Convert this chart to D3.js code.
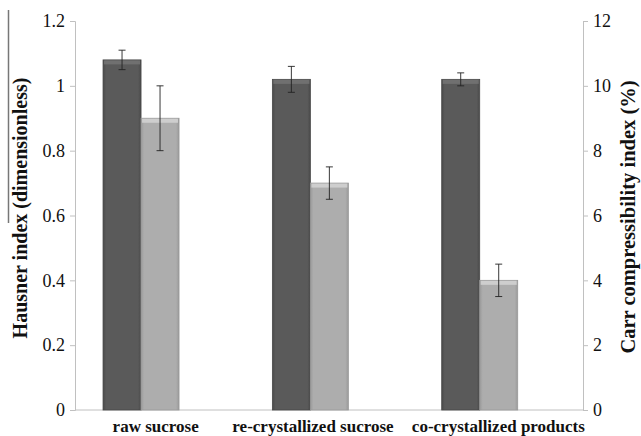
<!DOCTYPE html>
<html>
<head>
<meta charset="utf-8">
<script src="https://cdn.jsdelivr.net/npm/d3@7"></script>
<style>
  body { margin: 0; background: #fff; }
  text { font-family: "Liberation Serif", "Times New Roman", serif; }
</style>
</head>
<body>
<div id="chart"></div>
<script>
var categories = ["raw sucrose", "re-crystallized sucrose", "co-crystallized products"],
    hausner = [1.08, 1.02, 1.02],
    hausnerErr = [0.03, 0.04, 0.02],
    carr = [9, 7, 4],
    carrErr = [1, 0.5, 0.5],
    leftTicks = [0, 0.2, 0.4, 0.6, 0.8, 1, 1.2],
    rightTicks = [0, 2, 4, 6, 8, 10, 12];

var width = 641, height = 436,
    margin = {top: 21, right: 58, bottom: 26, left: 75},
    innerW = width - margin.left - margin.right,
    innerH = height - margin.top - margin.bottom;

var svg = d3.select("#chart").append("svg")
    .attr("width", width)
    .attr("height", height);

// bevel-ish gradients for the two series
var defs = svg.append("defs");
function grad(id, edge, mid) {
  var g = defs.append("linearGradient").attr("id", id)
      .attr("x1", "0%").attr("x2", "100%");
  g.append("stop").attr("offset", "0%").attr("stop-color", edge);
  g.append("stop").attr("offset", "8%").attr("stop-color", mid);
  g.append("stop").attr("offset", "92%").attr("stop-color", mid);
  g.append("stop").attr("offset", "100%").attr("stop-color", edge);
}
grad("gDark", "#4a4a4a", "#5a5a5a");
grad("gLight", "#9a9a9a", "#adadad");

var g = svg.append("g")
    .attr("transform", `translate(${margin.left},${margin.top})`);

var x = d3.scaleBand().domain(categories).range([0, innerW]),
    yL = d3.scaleLinear().domain([0, 1.2]).range([innerH, 0]),
    yR = d3.scaleLinear().domain([0, 12]).range([innerH, 0]);

var barW = 38,
    groupOff = x.bandwidth() * 0.39, // group centre inside each band
    labelNudge = [-4, -16, 0];       // label shifts as laid out in the source

// axes
var axisL = g.append("g").call(d3.axisLeft(yL).tickValues(leftTicks)
    .tickSize(5).tickPadding(5).tickFormat(d3.format("")));
var axisR = g.append("g").attr("transform", `translate(${innerW},0)`)
    .call(d3.axisRight(yR).tickValues(rightTicks)
    .tickSize(5).tickPadding(5).tickFormat(d3.format("d")));
[axisL, axisR].forEach(function(a) {
  a.attr("font-family", "Liberation Serif");
  a.select(".domain").attr("stroke", "#c0c0c0");
  a.selectAll(".tick line").attr("stroke", "#c0c0c0");
  a.selectAll("text").attr("font-size", 18).attr("fill", "#111");
});
g.append("line")
    .attr("x1", 0).attr("x2", innerW)
    .attr("y1", innerH).attr("y2", innerH)
    .attr("stroke", "#c0c0c0");

// category labels
g.selectAll(".cat").data(categories).enter().append("text")
    .attr("x", (d, i) => x(d) + x.bandwidth() / 2 + labelNudge[i])
    .attr("y", innerH + 22)
    .attr("text-anchor", "middle")
    .attr("font-size", 17).attr("font-weight", "bold").attr("fill", "#111")
    .text(d => d);

function bars(vals, errs, scale, side, fill, top) {
  var gx = d => x(categories[d]) + groupOff + (side ? 0 : -barW);
  var sel = g.append("g").selectAll("g").data(vals.map((v, i) => i))
      .enter().append("g");
  sel.append("rect")
      .attr("x", gx).attr("width", barW)
      .attr("y", i => scale(vals[i]))
      .attr("height", i => innerH - scale(vals[i]))
      .attr("fill", fill)
      .attr("stroke", side ? "#999" : "#484848").attr("stroke-width", 0.8);
  sel.append("rect")
      .attr("x", i => gx(i) + 1).attr("width", barW - 2)
      .attr("y", i => scale(vals[i]) + 0.5).attr("height", 4)
      .attr("fill", top).attr("opacity", 0.9);
  // error bars
  var cx = i => gx(i) + barW / 2;
  sel.append("line")
      .attr("x1", cx).attr("x2", cx)
      .attr("y1", i => scale(vals[i] + errs[i]))
      .attr("y2", i => scale(vals[i] - errs[i]))
      .attr("stroke", "#222").attr("stroke-width", 0.9);
  [1, -1].forEach(function(s) {
    sel.append("line")
        .attr("x1", i => cx(i) - 3.5).attr("x2", i => cx(i) + 3.5)
        .attr("y1", i => scale(vals[i] + s * errs[i]))
        .attr("y2", i => scale(vals[i] + s * errs[i]))
        .attr("stroke", "#222").attr("stroke-width", 0.9);
  });
}
bars(hausner, hausnerErr, yL, 0, "url(#gDark)", "#727272");
bars(carr, carrErr, yR, 1, "url(#gLight)", "#d2d2d2");

// axis titles
svg.append("text")
    .attr("transform", "translate(27,208) rotate(-90)")
    .attr("text-anchor", "middle")
    .attr("font-size", 20).attr("font-weight", "bold").attr("fill", "#111")
    .text("Hausner index (dimensionless)");
svg.append("text")
    .attr("transform", "translate(635,217) rotate(-90)")
    .attr("text-anchor", "middle")
    .attr("font-size", 20.5).attr("font-weight", "bold").attr("fill", "#111")
    .text("Carr compressibility index (%)");

// stray border line at the top left of the source figure
svg.append("line")
    .attr("x1", 8.5).attr("x2", 8.5).attr("y1", 10).attr("y2", 223)
    .attr("stroke", "#777").attr("stroke-width", 1.5);
</script>
</body>
</html>
